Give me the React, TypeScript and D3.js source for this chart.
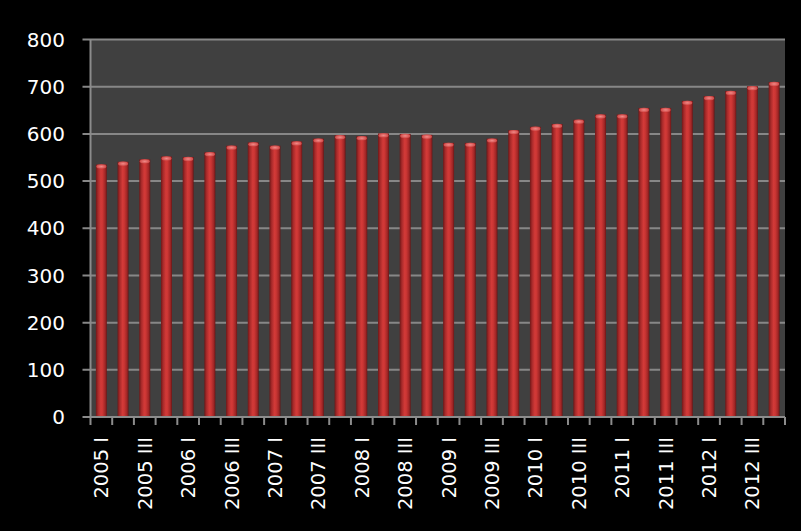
import React, { useEffect, useRef } from "react";
import * as d3 from "d3";

// quarters, 2005 I .. 2012 IV
const categories = [
  "2005 I", "2005 II", "2005 III", "2005 IV",
  "2006 I", "2006 II", "2006 III", "2006 IV",
  "2007 I", "2007 II", "2007 III", "2007 IV",
  "2008 I", "2008 II", "2008 III", "2008 IV",
  "2009 I", "2009 II", "2009 III", "2009 IV",
  "2010 I", "2010 II", "2010 III", "2010 IV",
  "2011 I", "2011 II", "2011 III", "2011 IV",
  "2012 I", "2012 II", "2012 III", "2012 IV",
];

const values = [
  535, 541, 546, 552, 551, 561, 575, 582,
  575, 584, 590, 597, 595, 601, 600, 598,
  581, 581, 590, 608, 615, 621, 630, 641,
  641, 655, 655, 670, 680, 691, 701, 710,
];

const yTicks = [0, 100, 200, 300, 400, 500, 600, 700, 800];

const W = 801;
const H = 531;
const margin = { left: 90.5, right: 16, top: 39.5, bottom: 114 };
const font = "'DejaVu Sans', sans-serif";

const App: React.FC = () => {
  const ref = useRef<SVGSVGElement | null>(null);

  useEffect(() => {
    const svg = d3.select(ref.current);
    svg.selectAll("*").remove();

    const x0 = margin.left;
    const x1 = W - margin.right;
    const y0 = H - margin.bottom;
    const y1 = margin.top;

    const x = d3.scaleBand<string>().domain(categories).range([x0, x1]).paddingInner(0).paddingOuter(0);
    const y = d3.scaleLinear().domain([0, 800]).range([y0, y1]);

    const defs = svg.append("defs");
    const grad = defs.append("linearGradient").attr("id", "cyl").attr("x1", "0").attr("x2", "1").attr("y1", "0").attr("y2", "0");
    [
      [0, "#6e1818"],
      [0.2, "#a82a2a"],
      [0.45, "#d23a38"],
      [0.6, "#cc3634"],
      [0.85, "#a02626"],
      [1, "#681616"],
    ].forEach(([o, c]) => grad.append("stop").attr("offset", o as number).attr("stop-color", c as string));

    const capGrad = defs.append("radialGradient").attr("id", "cap").attr("cx", "0.5").attr("cy", "0.5").attr("r", "0.6");
    capGrad.append("stop").attr("offset", 0).attr("stop-color", "#f28a88");
    capGrad.append("stop").attr("offset", 1).attr("stop-color", "#c83c3a");

    svg.append("rect").attr("width", W).attr("height", H).attr("fill", "#000");
    svg.append("rect")
      .attr("x", x0).attr("y", y1)
      .attr("width", x1 - x0).attr("height", y0 - y1)
      .attr("fill", "#404040");

    // gridlines
    svg.append("g")
      .selectAll("line")
      .data(yTicks.filter((t) => t > 0))
      .join("line")
      .attr("x1", x0 - 8).attr("x2", x1)
      .attr("y1", (d) => y(d)).attr("y2", (d) => y(d))
      .attr("stroke", "#878787").attr("stroke-width", 2);

    // bars
    const bw = 11;
    const bars = svg.append("g");
    categories.forEach((c, i) => {
      const cx = (x(c) ?? 0) + x.bandwidth() / 2;
      const top = y(values[i]);
      bars.append("rect")
        .attr("x", cx - bw / 2).attr("y", top)
        .attr("width", bw).attr("height", y0 - top)
        .attr("fill", "url(#cyl)");
      bars.append("ellipse")
        .attr("cx", cx).attr("cy", top + 2)
        .attr("rx", bw / 2 - 0.5).attr("ry", 2.2)
        .attr("fill", "url(#cap)");
    });

    // axes
    const axis = svg.append("g").attr("stroke", "#8c8c8c").attr("stroke-width", 2);
    axis.append("line").attr("x1", x0).attr("x2", x0).attr("y1", y1).attr("y2", y0);
    axis.append("line").attr("x1", x0 - 8).attr("x2", x1).attr("y1", y0).attr("y2", y0);
    const bounds = categories.map((c) => x(c) ?? 0).concat([x1]);
    axis.selectAll("line.tick")
      .data(bounds)
      .join("line")
      .attr("class", "tick")
      .attr("x1", (d) => d).attr("x2", (d) => d)
      .attr("y1", y0).attr("y2", y0 + 8);

    // y labels
    svg.append("g")
      .selectAll("text")
      .data(yTicks)
      .join("text")
      .attr("x", 65)
      .attr("y", (d) => y(d))
      .attr("dy", "0.36em")
      .attr("text-anchor", "end")
      .attr("fill", "#fff")
      .attr("font-family", font)
      .attr("font-size", 20)
      .text((d) => d);

    // x labels: every other quarter
    svg.append("g")
      .selectAll("text")
      .data(categories.filter((_, i) => i % 2 === 0))
      .join("text")
      .attr("transform", (d) => `translate(${(x(d) ?? 0) + x.bandwidth() / 2},437) rotate(-90)`)
      .attr("dy", "0.36em")
      .attr("text-anchor", "end")
      .attr("fill", "#fff")
      .attr("font-family", font)
      .attr("font-size", 19.5)
      .text((d) => d);
  }, []);

  return <svg ref={ref} width={W} height={H} style={{ position: "absolute", left: 0, top: 0, display: "block" }} />;
};

export default App;
